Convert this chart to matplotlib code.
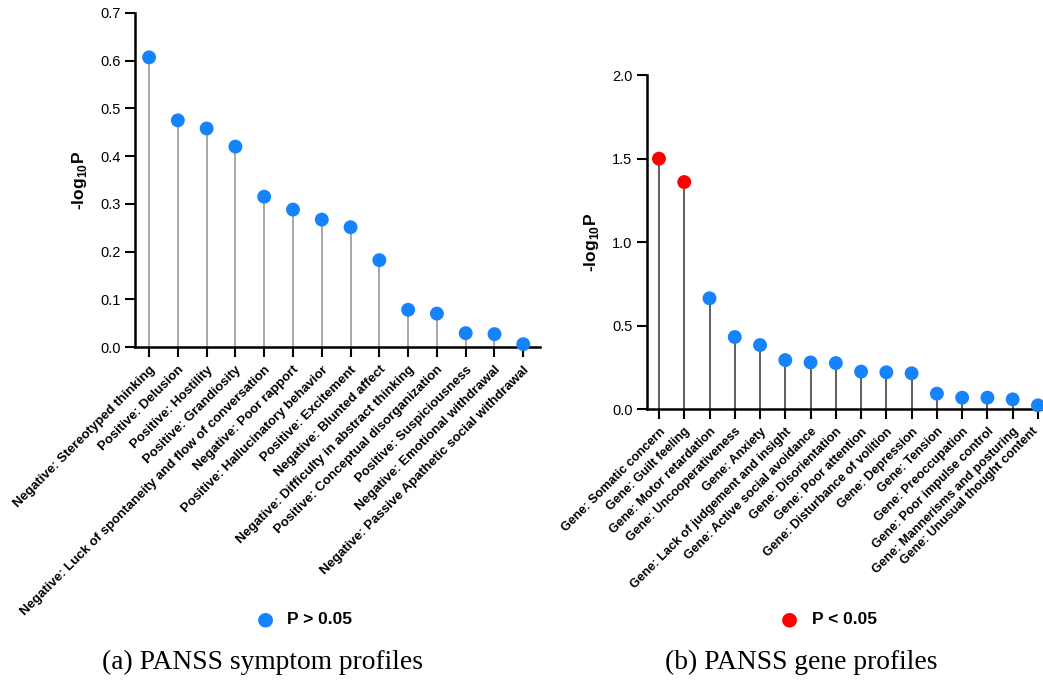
import matplotlib.pyplot as plt
import matplotlib.transforms as mtransforms
import numpy as np

plt.rcParams['font.family'] = ['Liberation Sans', 'DejaVu Sans']
plt.rcParams['mathtext.fontset'] = 'custom'
plt.rcParams['mathtext.rm'] = 'Liberation Sans:bold'
plt.rcParams['mathtext.bf'] = 'Liberation Sans:bold'

# (a) PANSS symptom profiles
symptom_labels = [
    'Negative: Stereotyped thinking', 'Positive: Delusion', 'Positive: Hostility',
    'Positive: Grandiosity', 'Negative: Luck of spontaneity and flow of conversation',
    'Negative: Poor rapport', 'Positive: Hallucinatory behavior', 'Positive: Excitement',
    'Negative: Blunted affect', 'Negative: Difficulty in abstract thinking',
    'Positive: Conceptual disorganization', 'Positive: Suspiciousness',
    'Negative: Emotional withdrawal', 'Negative: Passive Apathetic social withdrawal',
]
symptom_vals = [0.607, 0.475, 0.458, 0.420, 0.315, 0.288, 0.267, 0.251,
                0.182, 0.078, 0.070, 0.029, 0.027, 0.006]

# (b) PANSS gene profiles
gene_labels = [
    'Gene: Somatic concern', 'Gene: Guilt feeling', 'Gene: Motor retardation',
    'Gene: Uncooperativeness', 'Gene: Anxiety', 'Gene: Lack of judgement and insight',
    'Gene: Active social avoidance', 'Gene: Disorientation', 'Gene: Poor attention',
    'Gene: Disturbance of volition', 'Gene: Depression', 'Gene: Tension',
    'Gene: Preoccupation', 'Gene: Poor impulse control', 'Gene: Mannerisms and posturing',
    'Gene: Unusual thought content',
]
gene_vals = [1.499, 1.359, 0.663, 0.431, 0.383, 0.293, 0.279, 0.275,
             0.224, 0.220, 0.214, 0.092, 0.068, 0.068, 0.058, 0.022]

BLUE = '#1583fb'
RED = '#ff0000'

fig = plt.figure(figsize=(10.43, 6.8), dpi=100)


def lollipop(ax, labels, vals, ymax, yticks, stem_color, lab_size):
    x = np.arange(len(vals))
    vals = np.array(vals)
    colors = [RED if v > 1.301 else BLUE for v in vals]
    ax.vlines(x, 0, vals, color=stem_color, lw=1.2, zorder=2)
    ax.scatter(x, vals, s=100, c=colors, zorder=3, clip_on=False, linewidths=0)
    ax.set_ylim(0, ymax)
    ax.set_yticks(yticks)
    ax.set_yticklabels(['%.1f' % t for t in yticks], fontsize=10.5)
    ax.set_xticks(x)
    ax.set_xticklabels(labels, rotation=45, ha='right', rotation_mode='anchor',
                       fontsize=lab_size, fontweight='bold')
    for s in ['top', 'right']:
        ax.spines[s].set_visible(False)
    for s in ['left', 'bottom']:
        ax.spines[s].set_linewidth(1.8)
    ax.tick_params(axis='both', width=1.5, length=7, direction='out')
    ax.tick_params(axis='x', pad=5)
    ax.set_ylabel(r'-log$_{10}$P', fontweight='bold', fontsize=12.5, labelpad=8)


ax1 = fig.add_axes([0.1294, 0.4897, 0.3883, 0.4912])
lollipop(ax1, symptom_labels, symptom_vals, 0.7, np.arange(0, 0.71, 0.1), '#999999', 9.5)
ax1.set_xlim(-0.49, 13.58)

ax2 = fig.add_axes([0.6203, 0.3985, 0.3797, 0.4912])
lollipop(ax2, gene_labels, gene_vals, 2.0, np.arange(0, 2.01, 0.5), '#444444', 9.1)
ax2.set_xlim(-0.475, 15.2)

# nudge the last gene label so it stays inside the figure
last = ax2.get_xticklabels()[-1]
last.set_transform(last.get_transform() +
                   mtransforms.ScaledTranslation(-6 / 100, 0, fig.dpi_scale_trans))

# legends
fig.text(265 / 1043, 1 - 619 / 680, '\u25cf', color=BLUE, fontsize=14,
         ha='center', va='center', family='DejaVu Sans')
fig.text(287 / 1043, 1 - 619 / 680, 'P > 0.05', fontweight='bold', fontsize=12.5,
         ha='left', va='center')
fig.text(789 / 1043, 1 - 619 / 680, '\u25cf', color=RED, fontsize=14,
         ha='center', va='center', family='DejaVu Sans')
fig.text(812 / 1043, 1 - 619 / 680, 'P < 0.05', fontweight='bold', fontsize=12.5,
         ha='left', va='center')

# captions
fig.text(262 / 1043, 1 - 662 / 680, '(a) PANSS symptom profiles', family='Liberation Serif',
         fontsize=19.8, ha='center', va='center')
fig.text(801 / 1043, 1 - 662 / 680, '(b) PANSS gene profiles', family='Liberation Serif',
         fontsize=19.8, ha='center', va='center')

fig.savefig('out.png', dpi=100)
